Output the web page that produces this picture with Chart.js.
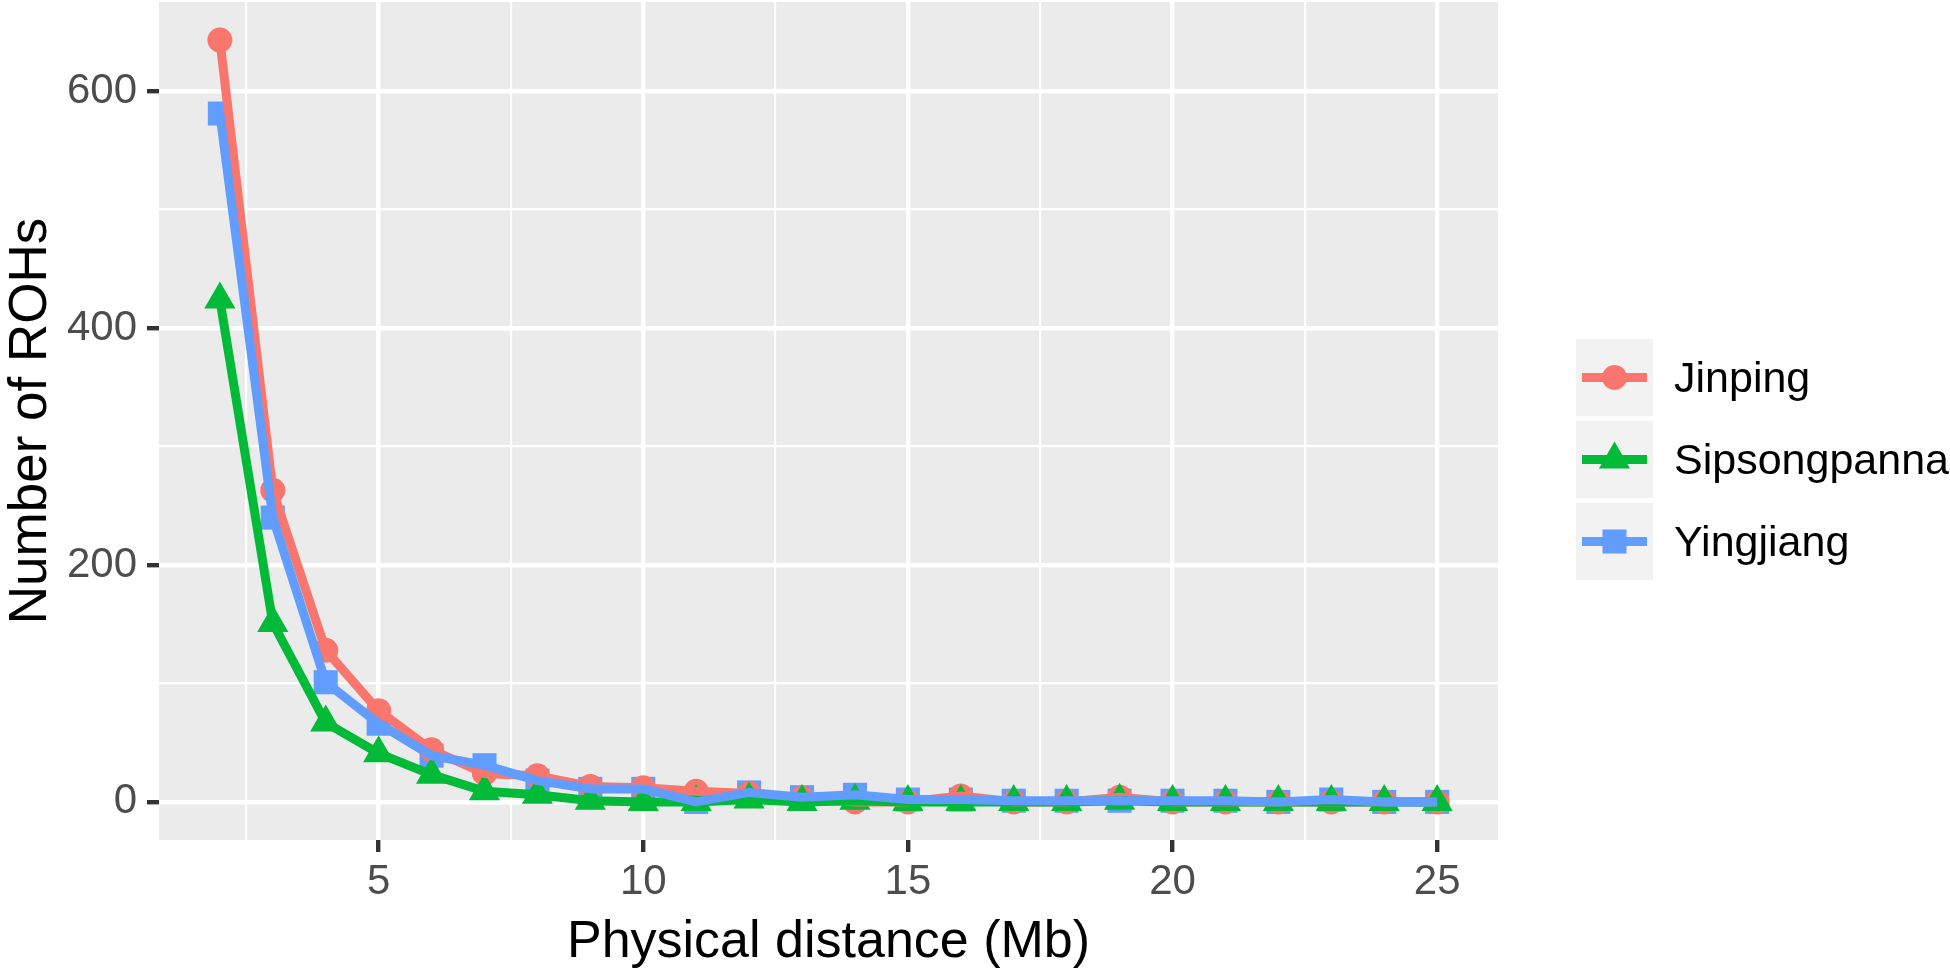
<!DOCTYPE html>
<html>
<head>
<meta charset="utf-8">
<title>Number of ROHs by physical distance</title>
<script src="https://cdn.jsdelivr.net/npm/chart.js@4.4.1/dist/chart.umd.min.js"></script>
<style>
    html, body { margin: 0; padding: 0; background: #ffffff; }
    #rohChart { display: block; }
</style>
</head>
<body>
<canvas id="rohChart" width="1950" height="969"></canvas>
<script>
// ROH counts per physical distance bin, three populations

// x categories (Mb)
const distance = [2, 3, 4, 5, 6, 7, 8, 9, 10, 11, 12, 13, 14, 15, 16, 17, 18, 19, 20, 21, 22, 23, 24, 25];

// series values
const jinping      = [643, 263, 128, 77, 44, 24, 22, 13, 12, 9, 7, 3, 0, 0, 5, 0, 0, 4, 0, 0, 0, 0, 0, 0];
const sipsongpanna = [424, 151, 67, 41, 23, 9, 6, 1, 0, 0, 2, 0, 1, 0, 0, 0, 0, 1, 0, 0, 0, 0, 0, 0];
const yingjiang    = [581, 240, 101, 66, 39, 31, 18, 11, 11, 0, 8, 4, 6, 2, 2, 1, 1, 1, 1, 1, 0, 2, 0, 0];

const seriesNames = ['Jinping', 'Sipsongpanna', 'Yingjiang'];
const seriesValues = [jinping, sipsongpanna, yingjiang];

// tick labels (major) and minor grid positions
const xTicks = [5, 10, 15, 20, 25];
const xMinor = [2.5, 7.5, 12.5, 17.5, 22.5];
const yTicks = [0, 200, 400, 600];
const yMinor = [100, 300, 500];

// styles
const colors = ['#F8766D', '#00BA38', '#619CFF'];
const shapes = ['circle', 'triangle', 'rect'];
const shapeRadius = { circle: 12.5, triangle: 18, rect: 17 };
const LINE_W = 9;
const pointOrder = [5, 4, 6];   // blue points at the bottom, green on top
const lineOrder = [3, 2, 1];    // lines above the points, blue line last

const FONT = "'Liberation Sans', Arial, sans-serif";
Chart.defaults.font.family = FONT;

document.addEventListener('DOMContentLoaded', function () {
    const canvas = document.getElementById('rohChart');
    if (!canvas) return;

    const datasets = [];
    seriesNames.forEach(function (name, i) {
        const pts = distance.map((d, k) => ({ x: d, y: seriesValues[i][k] }));
        // point layer
        datasets.push({
            label: name,
            data: pts,
            showLine: false,
            pointStyle: shapes[i],
            pointRadius: shapeRadius[shapes[i]],
            pointBackgroundColor: colors[i],
            pointBorderWidth: 0,
            pointBorderColor: colors[i],
            order: pointOrder[i]
        });
        // line layer
        datasets.push({
            label: name,
            data: pts,
            borderColor: colors[i],
            borderWidth: LINE_W,
            borderJoinStyle: 'round',
            pointRadius: 0,
            fill: false,
            tension: 0,
            order: lineOrder[i]
        });
    });

    function isMajor(axisTicks, ctx) {
        return ctx.tick && axisTicks.indexOf(ctx.tick.value) !== -1;
    }

    function axisGrid(axisTicks) {
        return {
            color: '#FFFFFF',
            lineWidth: ctx => isMajor(axisTicks, ctx) ? 4.4 : 2.2,
            tickColor: ctx => isMajor(axisTicks, ctx) ? '#333333' : 'rgba(0,0,0,0)',
            tickWidth: 4.4,
            tickLength: 12,
            drawTicks: true
        };
    }

    // no extra room for edge labels, the panel fills the box
    function noEdgePadding(scale) {
        scale.paddingTop = 0;
        scale.paddingBottom = 0;
        scale.paddingLeft = 0;
        scale.paddingRight = 0;
    }

    // panel background + white page
    const panelPlugin = {
        id: 'panelBg',
        beforeDraw: function (chart) {
            const { ctx, chartArea } = chart;
            ctx.save();
            ctx.fillStyle = '#FFFFFF';
            ctx.fillRect(0, 0, chart.width, chart.height);
            ctx.fillStyle = '#EBEBEB';
            ctx.fillRect(chartArea.left, chartArea.top,
                chartArea.right - chartArea.left, chartArea.bottom - chartArea.top);
            ctx.restore();
        }
    };

    // ggplot style legend on the right
    const legendPlugin = {
        id: 'ggLegend',
        afterDraw: function (chart) {
            const { ctx } = chart;
            const keySize = 77, gap = 5, keyLeft = 1576, firstTop = 339;
            ctx.save();
            seriesNames.forEach(function (name, i) {
                const top = firstTop + i * (keySize + gap);
                const cy = top + keySize / 2;
                ctx.fillStyle = '#F2F2F2';
                ctx.fillRect(keyLeft, top, keySize, keySize);

                ctx.strokeStyle = colors[i];
                ctx.lineWidth = LINE_W;
                ctx.lineCap = 'butt';
                ctx.beginPath();
                ctx.moveTo(keyLeft + 6, cy);
                ctx.lineTo(keyLeft + keySize - 6, cy);
                ctx.stroke();

                ctx.fillStyle = colors[i];
                Chart.helpers.drawPoint(ctx, {
                    pointStyle: shapes[i],
                    radius: shapeRadius[shapes[i]],
                    rotation: 0,
                    borderWidth: 0
                }, keyLeft + keySize / 2, cy);

                ctx.fillStyle = '#000000';
                ctx.font = '43px ' + FONT;
                ctx.textAlign = 'left';
                ctx.textBaseline = 'middle';
                ctx.fillText(name, 1674, cy + 3);
            });
            ctx.restore();
        }
    };

    new Chart(canvas, {
        type: 'line',
        data: { datasets: datasets },
        options: {
            responsive: false,
            devicePixelRatio: 1,
            animation: false,
            events: [],
            layout: {
                autoPadding: false,
                padding: { top: 2, right: 452, left: 0, bottom: 0 }
            },
            plugins: {
                legend: { display: false },
                tooltip: { enabled: false }
            },
            scales: {
                x: {
                    type: 'linear',
                    min: 0.85,
                    max: 26.15,
                    afterBuildTicks: function (scale) {
                        scale.ticks = xMinor.concat(xTicks).sort((a, b) => a - b).map(v => ({ value: v }));
                    },
                    afterFit: function (scale) { scale.height = 129; noEdgePadding(scale); },
                    grid: axisGrid(xTicks),
                    border: { display: false },
                    ticks: {
                        autoSkip: false,
                        maxRotation: 0,
                        padding: 5,
                        color: '#4D4D4D',
                        font: { size: 42 },
                        callback: v => xTicks.indexOf(v) !== -1 ? String(v) : ''
                    },
                    title: {
                        display: true,
                        text: 'Physical distance (Mb)',
                        color: '#000000',
                        font: { size: 52 },
                        padding: { top: 0, bottom: -5 }
                    }
                },
                y: {
                    type: 'linear',
                    min: -32.15,
                    max: 675.15,
                    afterBuildTicks: function (scale) {
                        scale.ticks = yMinor.concat(yTicks).sort((a, b) => a - b).map(v => ({ value: v }));
                    },
                    afterFit: function (scale) { scale.width = 159; noEdgePadding(scale); },
                    grid: axisGrid(yTicks),
                    border: { display: false },
                    ticks: {
                        autoSkip: false,
                        padding: 10,
                        color: '#4D4D4D',
                        font: { size: 42 },
                        callback: v => yTicks.indexOf(v) !== -1 ? String(v) : ''
                    },
                    title: {
                        display: true,
                        text: 'Number of ROHs',
                        color: '#000000',
                        font: { size: 53 },
                        padding: { top: 0, bottom: 0 }
                    }
                }
            }
        },
        plugins: [panelPlugin, legendPlugin]
    });
});
</script>
</body>
</html>
